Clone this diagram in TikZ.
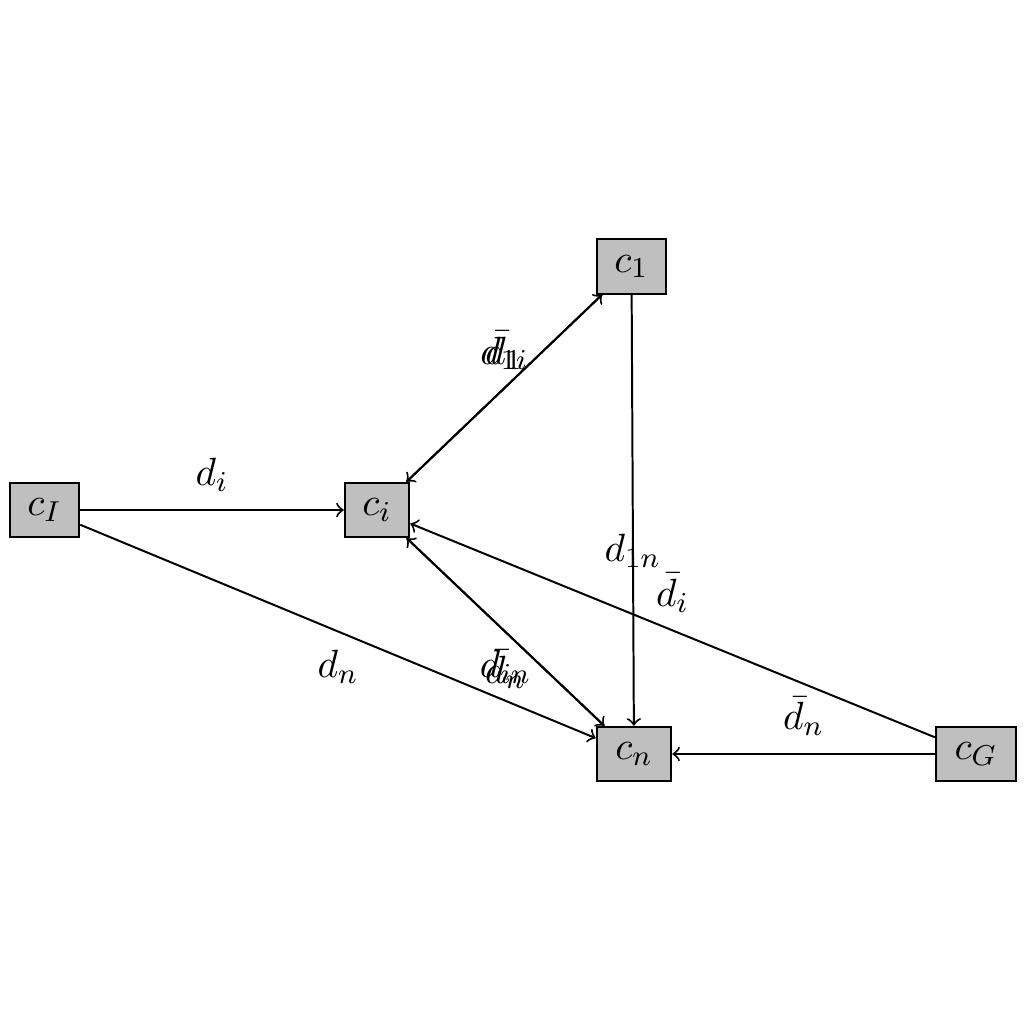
\documentclass[tikz,border=0pt]{standalone}
\begin{document}
\begin{tikzpicture}[x=0.009765625cm,y=-0.009765625cm,
  every node/.style={font=\fontsize{10.8}{13}\selectfont},
  cbox/.style={draw,fill=lightgray,minimum height=0.532cm,inner sep=0pt,line width=0.55pt},
  lab/.style={inner sep=4.8pt},
  every path/.style={line width=0.55pt},
  >=to]
\useasboundingbox (0,0) rectangle (1024,1024);
\node[cbox,minimum width=0.679cm] (cI) at (44.5,510) {$c_I$};
\node[cbox,minimum width=0.630cm] (ci) at (377,510) {$c_i$};
\node[cbox,minimum width=0.679cm] (c1) at (631.5,266.5) {$c_1$};
\node[cbox,minimum width=0.728cm] (cn) at (634,754) {$c_n$};
\node[cbox,minimum width=0.786cm] (cG) at (976,754) {$c_G$};
\draw[->] (cI) -- node[lab,above] {$d_i$} (ci);
\draw[->] (cI) -- node[lab,below] {$d_n$} (cn);
\draw[->] (ci) -- node[lab,above] {$d_{1i}$} (c1);
\draw[->] (c1) -- node[lab,above] {$\bar{d}_1$} (ci);
\draw[->] (ci) -- node[lab,below] {$d_{in}$} (cn);
\draw[->] (cn) -- node[lab,below] {$\bar{d}_n$} (ci);
\draw[->] (c1) -- node[below,pos=0.525] {$d_{1n}$} (cn);
\draw[->] (cG) -- node[lab,above] {$\bar{d}_i$} (ci);
\draw[->] (cG) -- node[lab,above] {$\bar{d}_n$} (cn);
\end{tikzpicture}
\end{document}
